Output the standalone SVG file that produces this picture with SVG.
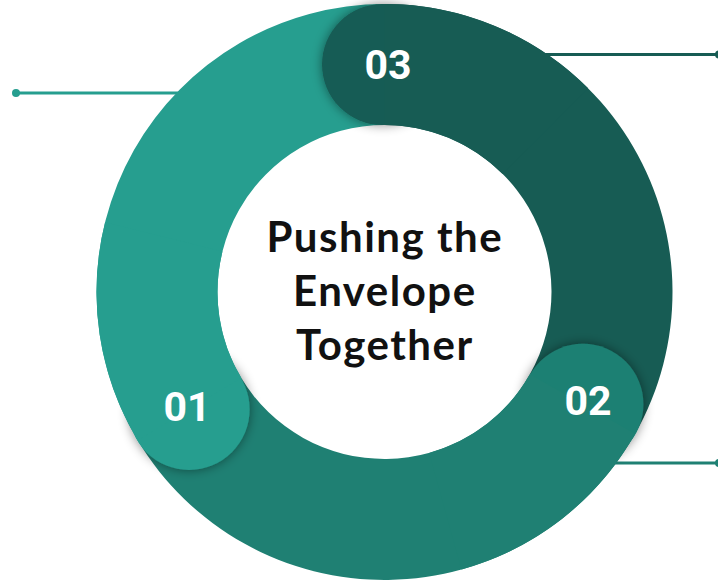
<svg xmlns="http://www.w3.org/2000/svg" width="718" height="584" viewBox="0 0 718 584">
<style>
.c1{fill:#269E8F}
.c2{fill:#1F8073}
.c3{fill:#175C54}
.num{font-family:Roboto,"Liberation Sans",sans-serif;font-weight:700;font-size:41px;fill:#ffffff;text-anchor:middle}
.title{font-family:Lato,"Liberation Sans",sans-serif;font-weight:700;font-size:42px;letter-spacing:1.5px;fill:#111111;text-anchor:middle}
.ln{stroke-width:3;fill:none}
</style>
<defs>
<filter id="sh" x="-40%" y="-40%" width="180%" height="180%">
<feDropShadow dx="0" dy="0" stdDeviation="5.5" flood-color="#000" flood-opacity="0.45"/>
</filter>
</defs>
<rect width="718" height="584" fill="#ffffff"/>
<g id="connectors">
<line class="ln" x1="16" y1="93" x2="200" y2="93" stroke="#269E8F"/>
<circle cx="16" cy="93" r="4" fill="#269E8F"/>
<line class="ln" x1="520" y1="54.5" x2="718" y2="54.5" stroke="#175C54"/>
<circle cx="719" cy="54.5" r="4" fill="#175C54"/>
<line class="ln" x1="600" y1="463" x2="718" y2="463" stroke="#1F8073"/>
<circle cx="719" cy="463" r="4" fill="#1F8073"/>
</g>
<g id="ring">
<path class="c1" d="M 137.64 440.33 A 288 288 0 0 1 384.5 4 L 384.5 125 A 167 167 0 0 0 241.35 378.01 Z"/>
<path class="c3" d="M 384.5 4 A 288 288 0 0 1 635.16 433.82 L 529.85 374.23 A 167 167 0 0 0 384.5 125 Z"/>
<path class="c2" d="M 635.16 433.82 A 288 288 0 0 1 137.64 440.33 L 241.35 378.01 A 167 167 0 0 0 529.85 374.23 Z"/>
</g>
<g id="node-01">
<circle class="c1" cx="189.1" cy="409.4" r="60.5" filter="url(#sh)"/>
<path class="c1" d="M 137.64 440.33 A 288 288 0 0 1 105.05 222.33 L 222.46 251.6 A 167 167 0 0 0 241.35 378.01 Z"/>
<text class="num" x="187" y="421">01</text>
</g>
<g id="node-02">
<circle class="c2" cx="582.9" cy="404.3" r="60.5" filter="url(#sh)"/>
<path class="c2" d="M 635.16 433.82 A 288 288 0 0 1 461.46 569.53 L 429.13 452.93 A 167 167 0 0 0 529.85 374.23 Z"/>
<text class="num" x="588" y="415">02</text>
</g>
<g id="node-03">
<circle class="c3" cx="382.5" cy="64.5" r="60.5" filter="url(#sh)"/>
<path class="c3" d="M 384.5 4 A 288 288 0 0 1 588.15 88.35 L 502.59 173.91 A 167 167 0 0 0 384.5 125 Z"/>
<text class="num" x="388" y="79">03</text>
</g>
<g id="center-title">
<text class="title" x="384.8" y="252">Pushing the</text>
<text class="title" x="384.8" y="306">Envelope</text>
<text class="title" x="384.8" y="360">Together</text>
</g>
</svg>
